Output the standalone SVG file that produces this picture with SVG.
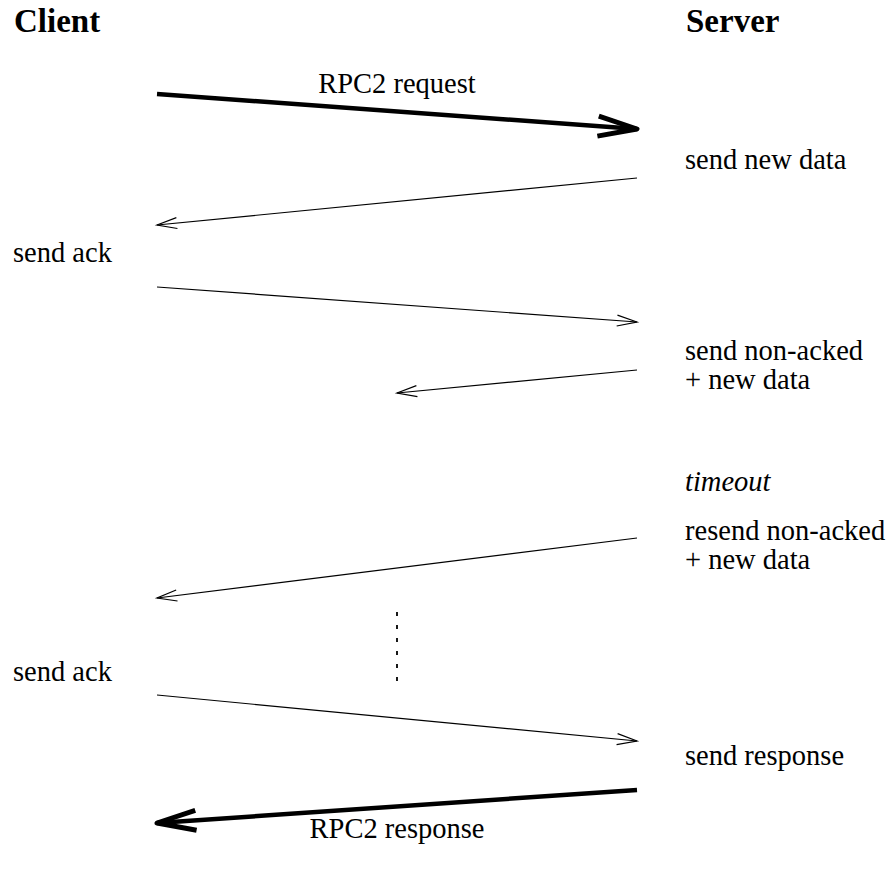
<svg xmlns="http://www.w3.org/2000/svg" width="893" height="871" viewBox="0 0 893 871">
<style>
text{font-family:"Liberation Serif","Times New Roman",serif;fill:#000;font-size:28.5px}
.h{font-weight:bold;font-size:33px}
.i{font-style:italic}
.thin{stroke:#000;stroke-width:1.2;fill:none}
.thick{stroke:#000;stroke-width:4.5;fill:none}
</style>
<defs>
<marker id="ah" markerUnits="userSpaceOnUse" viewBox="-22 -8 24 16" refX="0" refY="0" markerWidth="24" markerHeight="16" orient="auto" overflow="visible">
<path d="M-20,-5.5 L0,0 L-20,5.5" fill="none" stroke="#000" stroke-width="1.2"/>
</marker>
<marker id="ahb" markerUnits="userSpaceOnUse" viewBox="-42 -12 44 24" refX="0" refY="0" markerWidth="44" markerHeight="24" orient="auto" overflow="visible">
<path d="M-39,-10 L0,0 L-39,10" fill="none" stroke="#000" stroke-width="5" stroke-linejoin="round"/>
</marker>
</defs>
<g id="client"><text class="h" x="14" y="32">Client</text></g>
<g id="server"><text class="h" x="686" y="32">Server</text></g>
<g id="labels">
<text x="397" y="93" text-anchor="middle">RPC2 request</text>
<text x="685" y="169">send new data</text>
<text x="13" y="262">send ack</text>
<text x="685" y="360">send non-acked</text>
<text x="685" y="389">+ new data</text>
<text class="i" x="685" y="491">timeout</text>
<text x="685" y="540">resend non-acked</text>
<text x="685" y="569">+ new data</text>
<text x="13" y="681">send ack</text>
<text x="685" y="765">send response</text>
<text x="397" y="838" text-anchor="middle">RPC2 response</text>
</g>
<g id="connectors">
<line class="thick" x1="157" y1="94" x2="637" y2="129" marker-end="url(#ahb)"/>
<line class="thin" x1="637" y1="178" x2="157" y2="225" marker-end="url(#ah)"/>
<line class="thin" x1="157" y1="287" x2="637" y2="322" marker-end="url(#ah)"/>
<line class="thin" x1="637" y1="370" x2="397" y2="393" marker-end="url(#ah)"/>
<line class="thin" x1="637" y1="538" x2="157" y2="598" marker-end="url(#ah)"/>
<line x1="397" y1="612" x2="397" y2="683" stroke="#000" stroke-width="1.8" stroke-dasharray="4,9"/>
<line class="thin" x1="157" y1="695" x2="637" y2="741" marker-end="url(#ah)"/>
<line class="thick" x1="637" y1="790" x2="157" y2="823" marker-end="url(#ahb)"/>
</g>
</svg>
